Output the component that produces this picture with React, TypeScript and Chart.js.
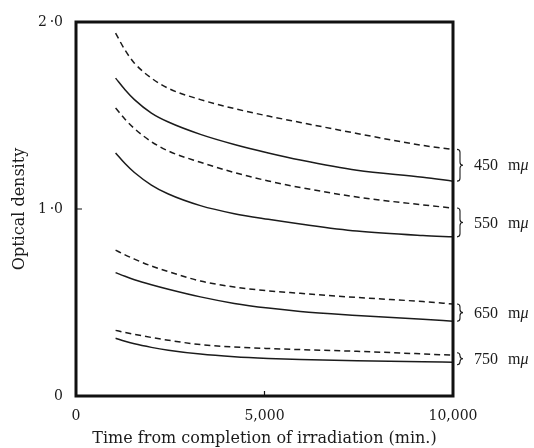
import React, { useEffect, useRef } from "react";
import { Chart, registerables } from "chart.js";

Chart.register(...registerables);

const times = [1050, 1300, 1550, 2000, 2450, 3300, 4200, 5100, 5950, 7450, 9200, 10000];

const d450Dashed = [1.94, 1.85, 1.78, 1.7, 1.645, 1.585, 1.537, 1.497, 1.463, 1.404, 1.34, 1.319];
const d450Solid = [1.7, 1.638, 1.585, 1.513, 1.465, 1.399, 1.345, 1.3, 1.262, 1.207, 1.17, 1.149];
const d550Dashed = [1.54, 1.48, 1.43, 1.36, 1.31, 1.25, 1.195, 1.15, 1.115, 1.064, 1.022, 1.005];
const d550Solid = [1.3, 1.243, 1.195, 1.128, 1.08, 1.018, 0.975, 0.945, 0.92, 0.882, 0.858, 0.851];
const d650Dashed = [0.78, 0.755, 0.732, 0.695, 0.665, 0.615, 0.583, 0.562, 0.549, 0.527, 0.505, 0.492];
const d650Solid = [0.66, 0.64, 0.622, 0.595, 0.571, 0.53, 0.495, 0.47, 0.452, 0.431, 0.41, 0.4];
const d750Dashed = [0.351, 0.34, 0.33, 0.313, 0.298, 0.275, 0.262, 0.254, 0.248, 0.239, 0.225, 0.218];
const d750Solid = [0.309, 0.293, 0.279, 0.26, 0.245, 0.224, 0.21, 0.201, 0.195, 0.188, 0.183, 0.181];

const bandLabels = ["450 m\u03bc", "550 m\u03bc", "650 m\u03bc", "750 m\u03bc"];

const xTickValues = [0, 5000, 10000];
const xTickLabels = ["0", "5,000", "10,000"];
const yTickValues = [0, 1, 2];
const yTickLabels = ["0", "1\u2009\u00b70", "2\u2009\u00b70"];

const xTitle = "Time from completion of irradiation (min.)";
const yTitle = "Optical density";

const INK = "#1b1b1b";
const SERIF = "'DejaVu Serif', serif";

const pairs = [
  [d450Dashed, d450Solid],
  [d550Dashed, d550Solid],
  [d650Dashed, d650Solid],
  [d750Dashed, d750Solid],
];

const decorPlugin = {
  id: "decor",
  afterDraw(chart: any) {
    const { ctx, chartArea } = chart;
    const xs = chart.scales.x;
    const ys = chart.scales.y;
    ctx.save();
    ctx.strokeStyle = "#111";
    ctx.lineWidth = 3;
    ctx.strokeRect(chartArea.left, chartArea.top, chartArea.right - chartArea.left, chartArea.bottom - chartArea.top);
    ctx.lineWidth = 1.2;
    ctx.beginPath();
    const y1 = ys.getPixelForValue(1);
    ctx.moveTo(chartArea.left, y1);
    ctx.lineTo(chartArea.left + 6, y1);
    const x5 = xs.getPixelForValue(5000);
    ctx.moveTo(x5, chartArea.bottom);
    ctx.lineTo(x5, chartArea.bottom - 5);
    ctx.stroke();
    const bx = chartArea.right + 4;
    ctx.lineWidth = 1.1;
    ctx.strokeStyle = INK;
    ctx.fillStyle = INK;
    ctx.textBaseline = "middle";
    ctx.textAlign = "left";
    pairs.forEach((p, i) => {
      const last = p[0].length - 1;
      let yt = ys.getPixelForValue(p[0][last]);
      let yb = ys.getPixelForValue(p[1][last]);
      const mid = (yt + yb) / 2;
      if (yb - yt < 12) {
        yt = mid - 6;
        yb = mid + 6;
      }
      const r = 3;
      ctx.beginPath();
      ctx.moveTo(bx, yt);
      ctx.quadraticCurveTo(bx + r, yt, bx + r, yt + r);
      ctx.lineTo(bx + r, mid - r);
      ctx.quadraticCurveTo(bx + r, mid, bx + 2 * r, mid);
      ctx.quadraticCurveTo(bx + r, mid, bx + r, mid + r);
      ctx.lineTo(bx + r, yb - r);
      ctx.quadraticCurveTo(bx + r, yb, bx, yb);
      ctx.stroke();
      const parts = bandLabels[i].split(" ");
      const num = parts[0];
      const unit = parts[1];
      const tx = chartArea.right + 21;
      ctx.font = "16px 'Liberation Serif', serif";
      ctx.fillText(num, tx, mid + 1);
      const w = ctx.measureText(num).width;
      ctx.fillText(unit.charAt(0), tx + w + 10, mid + 1);
      const wm = ctx.measureText(unit.charAt(0)).width;
      ctx.font = "italic 16px 'Liberation Serif', serif";
      ctx.fillText(unit.slice(1), tx + w + 10 + wm, mid + 1);
    });
    ctx.restore();
  },
};

function makeSet(data: number[], dashed: boolean) {
  return {
    data: times.map((t, i) => ({ x: t, y: data[i] })),
    borderColor: INK,
    borderWidth: 1.5,
    borderDash: dashed ? [6, 4] : [],
    pointRadius: 0,
    fill: false,
    cubicInterpolationMode: "monotone" as const,
  };
}

export default function App() {
  const ref = useRef<HTMLCanvasElement>(null);
  useEffect(() => {
    document.body.style.margin = "0";
    const canvas = ref.current!;
    const datasets: any[] = [];
    pairs.forEach((p) => {
      datasets.push(makeSet(p[0], true));
      datasets.push(makeSet(p[1], false));
    });
    const chart = new Chart(canvas, {
      type: "line",
      data: { datasets },
      plugins: [decorPlugin],
      options: {
        responsive: false,
        animation: false,
        devicePixelRatio: 1,
        layout: { padding: { left: 0, right: 81, top: 22, bottom: 0 } },
        plugins: { legend: { display: false }, tooltip: { enabled: false } },
        scales: {
          x: {
            type: "linear",
            min: 0,
            max: 10000,
            grid: { display: false, drawTicks: false },
            border: { display: false },
            afterBuildTicks: (s: any) => {
              s.ticks = xTickValues.map((v) => ({ value: v }));
            },
            afterFit: (s: any) => {
              s.height = 52;
            },
            ticks: {
              autoSkip: false,
              maxRotation: 0,
              padding: 12,
              color: INK,
              font: { family: SERIF, size: 14 },
              callback: (_v: any, i: number) => xTickLabels[i],
            },
            title: {
              display: true,
              text: xTitle,
              color: INK,
              font: { family: SERIF, size: 16 },
              padding: { top: 0, bottom: 0 },
            },
          },
          y: {
            type: "linear",
            min: 0,
            max: 2,
            grid: { display: false, drawTicks: false },
            border: { display: false },
            afterBuildTicks: (s: any) => {
              s.ticks = yTickValues.map((v) => ({ value: v }));
            },
            afterFit: (s: any) => {
              s.width = 76;
            },
            ticks: {
              autoSkip: false,
              padding: 13,
              color: INK,
              font: { family: SERIF, size: 14 },
              callback: (_v: any, i: number) => yTickLabels[i],
            },
            title: {
              display: true,
              text: yTitle,
              color: INK,
              font: { family: SERIF, size: 16 },
              padding: { top: 10, bottom: 0 },
            },
          },
        },
      },
    });
    return () => chart.destroy();
  }, []);
  return (
    <div style={{ width: 534, height: 448, background: "#fff" }}>
      <canvas ref={ref} width={534} height={448} />
    </div>
  );
}
